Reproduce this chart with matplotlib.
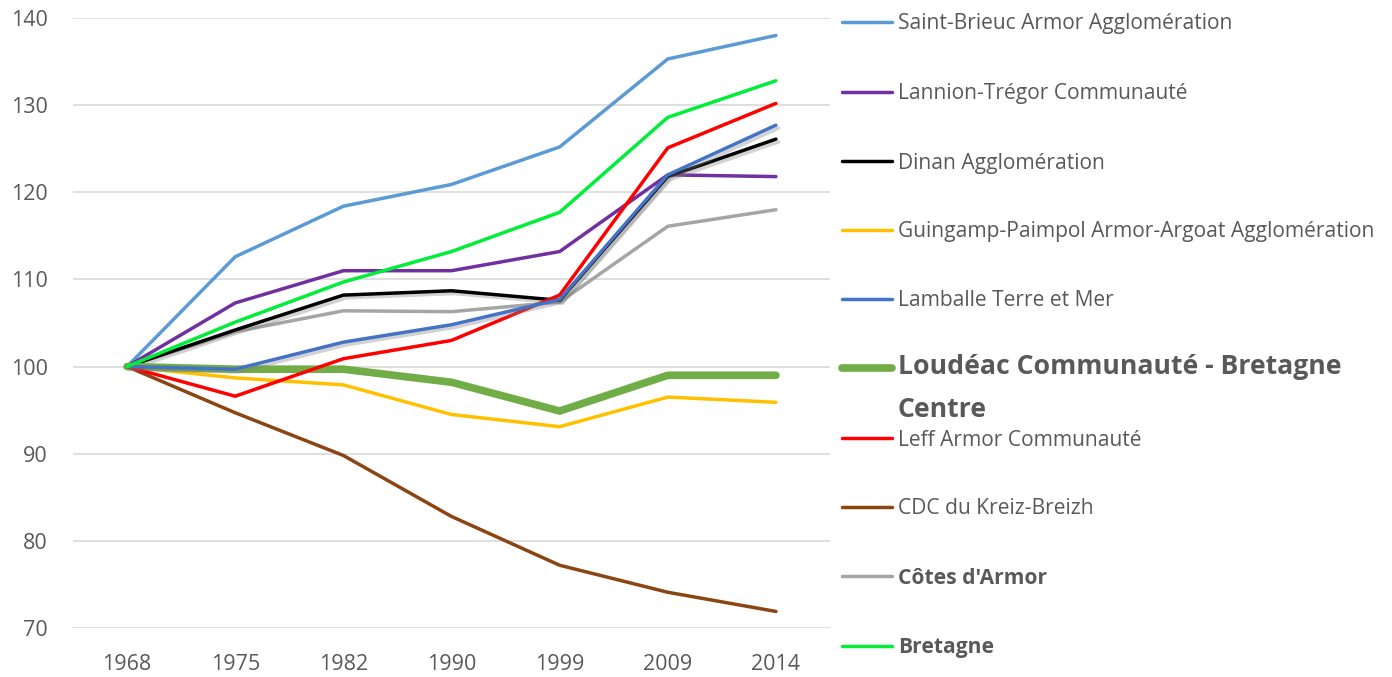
import matplotlib
matplotlib.use("Agg")
import matplotlib.pyplot as plt
import matplotlib.patheffects as pe
from matplotlib.lines import Line2D

plt.rcParams['font.family'] = ['Open Sans', 'DejaVu Sans']

# Données (indice base 100 en 1968)
annees = ['1968', '1975', '1982', '1990', '1999', '2009', '2014']

saint_brieuc = [100, 112.6, 118.4, 120.9, 125.2, 135.3, 138.0]
lannion = [100, 107.3, 111.0, 111.0, 113.2, 122.0, 121.8]
dinan = [100, 104.2, 108.2, 108.7, 107.6, 121.8, 126.1]
guingamp = [100, 98.7, 97.9, 94.5, 93.1, 96.5, 95.9]
lamballe = [100, 99.7, 102.8, 104.8, 107.7, 122.0, 127.7]
loudeac = [100, 99.7, 99.7, 98.2, 94.9, 99.0, 99.0]
leff = [100, 96.6, 100.9, 103.0, 108.2, 125.1, 130.2]
kreiz_breizh = [100, 94.7, 89.8, 82.8, 77.2, 74.1, 71.9]
cotes_armor = [100, 104.0, 106.4, 106.3, 107.4, 116.1, 118.0]
bretagne = [100, 105.1, 109.7, 113.2, 117.7, 128.6, 132.8]

noms = ["Saint-Brieuc Armor Agglomération", "Lannion-Trégor Communauté",
        "Dinan Agglomération", "Guingamp-Paimpol Armor-Argoat Agglomération",
        "Lamballe Terre et Mer", "Loudéac Communauté - Bretagne\nCentre",
        "Leff Armor Communauté", "CDC du Kreiz-Breizh", "Côtes d'Armor", "Bretagne"]
series = [saint_brieuc, lannion, dinan, guingamp, lamballe, loudeac,
          leff, kreiz_breizh, cotes_armor, bretagne]
couleurs = ['#5B9BD5', '#7030A0', '#000000', '#FFC000', '#4472C4', '#70AD47',
            '#FF0000', '#8B4513', '#A5A5A5', '#00EE3A']
epaisseurs = [2.5, 2.5, 2.5, 2.5, 2.5, 5.5, 2.5, 2.5, 2.5, 2.5]
ordre_z = [3, 3, 4, 3, 5, 4, 4, 3, 3, 6]

fig = plt.figure(figsize=(13.92, 6.77), dpi=100)
ax = fig.add_axes([73/1392, 1 - 628/677, 757/1392, 610/677])

x = range(len(annees))
for i, (vals, c, lw, z) in enumerate(zip(series, couleurs, epaisseurs, ordre_z)):
    effets = None
    if i in (2, 4):  # ombre portée comme dans Excel
        effets = [pe.SimpleLineShadow(offset=(2, -2), shadow_color='gray', alpha=0.35),
                  pe.Normal()]
    ax.plot(x, vals, color=c, lw=lw, zorder=z, solid_capstyle='round',
            solid_joinstyle='miter', path_effects=effets)

ax.set_xlim(-0.5, 6.5)
ax.set_ylim(70, 140)
ax.set_xticks(list(x))
ax.set_xticklabels(annees)
ax.set_yticks(range(70, 141, 10))
ax.grid(axis='y', color='#D9D9D9', lw=1.2, zorder=0)
for s in ax.spines.values():
    s.set_visible(False)
ax.tick_params(length=0, labelsize=15.5, colors='#595959')
ax.tick_params(axis='x', pad=19)
ax.tick_params(axis='y', pad=18)

# Légende dessinée à la main
y_leg = [22, 92, 161, 230, 299, 368, 438, 507, 576, 646]
for nom, c, lw, yy in zip(noms, couleurs, epaisseurs, y_leg):
    yf = 1 - yy / 677
    fig.add_artist(Line2D([842/1392, 892/1392], [yf, yf], color=c, lw=lw,
                          solid_capstyle='round', transform=fig.transFigure))
    if nom.startswith("Loudéac"):
        fig.text(898/1392, 1 - 354/677, nom, fontsize=19.2, fontweight='bold',
                 color='#595959', va='top', ha='left', linespacing=1.85)
    else:
        gras = nom in ("Côtes d'Armor", "Bretagne")
        fig.text(898/1392, 1 - (yy + 2) / 677, nom, fontsize=15.1, color='#595959',
                 va='center', ha='left', fontweight='bold' if gras else 'normal')

fig.savefig('out.png', dpi=100)
